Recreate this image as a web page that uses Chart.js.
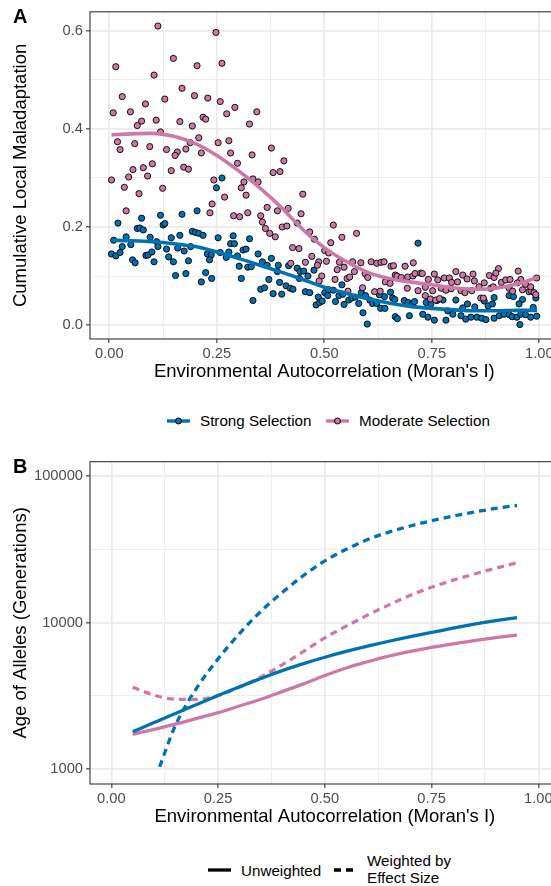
<!DOCTYPE html>
<html>
<head>
<meta charset="utf-8">
<script src="https://cdn.jsdelivr.net/npm/chart.js@4.4.1/dist/chart.umd.min.js"></script>
<style>
  html, body { margin: 0; padding: 0; background: #fff; }
  #page { position: relative; width: 551px; height: 886px; overflow: hidden;
          font-family: "Liberation Sans", Arial, sans-serif; color: #000; }
  canvas { position: absolute; left: 0; }
  .tag { position: absolute; font-weight: bold; font-size: 20px; line-height: 20px; }
  .key { position: absolute; }
  .lab { position: absolute; font-size: 15.2px; line-height: 17px; white-space: nowrap; }
</style>
</head>
<body>
<div id="page">
  <canvas id="chartA" width="570" height="390" style="top:0"></canvas>
  <canvas id="chartB" width="570" height="390" style="top:445px"></canvas>

  <div class="tag" style="left:13px;top:6px">A</div>
  <div class="tag" style="left:13px;top:456px">B</div>

  <!-- legend A -->
  <svg class="key" style="left:167px;top:415px" width="23" height="12">
    <line x1="0" y1="6" x2="23" y2="6" stroke="#0072B2" stroke-width="3.4"/>
    <circle cx="11.5" cy="6" r="3" fill="#0072B2" stroke="#000" stroke-width="1"/>
  </svg>
  <div class="lab" style="left:200px;top:412px">Strong Selection</div>
  <svg class="key" style="left:326px;top:415px" width="23" height="12">
    <line x1="0" y1="6" x2="23" y2="6" stroke="#CC79A7" stroke-width="3.4"/>
    <circle cx="11.5" cy="6" r="3" fill="#CC79A7" stroke="#000" stroke-width="1"/>
  </svg>
  <div class="lab" style="left:359px;top:412px">Moderate Selection</div>

  <!-- legend B -->
  <svg class="key" style="left:208px;top:864px" width="23" height="12">
    <line x1="0" y1="6" x2="23" y2="6" stroke="#000" stroke-width="3.3"/>
  </svg>
  <div class="lab" style="left:241px;top:862px">Unweighted</div>
  <svg class="key" style="left:334px;top:864px" width="20" height="12">
    <line x1="0" y1="6" x2="20" y2="6" stroke="#000" stroke-width="3.3" stroke-dasharray="7,5"/>
  </svg>
  <div class="lab" style="left:367px;top:853px;line-height:16.6px">Weighted by<br>Effect Size</div>
</div>

<script>
// Panel A: cumulative local maladaptation vs Moran's I
const strongPts = [
  [0.262,0.300],[0.249,0.280],[0.020,0.208],[0.075,0.218],[0.119,0.224],[0.169,0.226],[0.204,0.233],
  [0.125,0.204],[0.129,0.207],[0.065,0.197],[0.071,0.198],[0.079,0.194],[0.010,0.173],[0.039,0.180],
  [0.030,0.160],[0.050,0.164],[0.005,0.145],[0.015,0.141],[0.025,0.148],[0.054,0.133],[0.060,0.127],
  [0.085,0.142],[0.090,0.143],[0.095,0.179],[0.110,0.170],[0.113,0.160],[0.099,0.149],[0.104,0.129],
  [0.133,0.155],[0.144,0.178],[0.164,0.183],[0.138,0.139],[0.149,0.129],[0.159,0.157],[0.174,0.151],
  [0.189,0.160],[0.184,0.131],[0.154,0.101],[0.178,0.105],[0.193,0.191],[0.200,0.189],[0.208,0.187],
  [0.218,0.183],[0.228,0.145],[0.237,0.143],[0.233,0.133],[0.224,0.107],[0.214,0.088],[0.238,0.095],
  [0.253,0.178],[0.258,0.148],[0.272,0.138],[0.278,0.149],[0.288,0.182],[0.282,0.166],[0.291,0.166],
  [0.298,0.141],[0.311,0.153],[0.318,0.155],[0.302,0.120],[0.307,0.095],[0.326,0.176],[0.322,0.118],
  [0.330,0.119],[0.334,0.050],
  [0.346,0.145],[0.356,0.129],[0.367,0.122],[0.377,0.136],[0.352,0.073],[0.361,0.076],[0.371,0.093],
  [0.381,0.064],[0.401,0.063],[0.393,0.122],[0.391,0.109],[0.396,0.087],[0.411,0.080],[0.421,0.075],
  [0.427,0.073],[0.417,0.121],[0.437,0.116],[0.444,0.109],[0.452,0.110],[0.442,0.095],[0.462,0.100],
  [0.476,0.112],[0.456,0.068],[0.466,0.066],[0.486,0.057],[0.481,0.041],[0.489,0.046],[0.495,0.049],
  [0.501,0.066],[0.510,0.072],[0.521,0.071],[0.508,0.060],[0.526,0.048],[0.541,0.082],[0.534,0.060],
  [0.543,0.063],[0.557,0.051],[0.564,0.055],[0.572,0.057],[0.546,0.042],[0.580,0.044],[0.586,0.066],
  [0.590,0.025],[0.600,0.002],[0.596,0.060],[0.606,0.051],[0.612,0.044],[0.622,0.044],[0.631,0.034],
  [0.641,0.034],[0.640,0.058],[0.654,0.067],[0.659,0.055],[0.665,0.017],[0.670,0.013],[0.628,0.062],
  [0.718,0.167],[0.664,0.052],[0.698,0.019],[0.686,0.050],[0.695,0.046],[0.705,0.043],[0.710,0.048],
  [0.729,0.022],[0.741,0.016],[0.756,0.010],[0.737,0.046],[0.748,0.043],[0.762,0.050],[0.776,0.051],
  [0.787,0.029],[0.783,0.010],[0.799,0.022],[0.818,0.019],[0.829,0.012],[0.841,0.016],[0.855,0.016],
  [0.866,0.014],[0.876,0.011],[0.806,0.051],[0.822,0.035],[0.833,0.043],[0.850,0.037],[0.872,0.049],
  [0.881,0.039],[0.891,0.043],[0.895,0.056],[0.895,0.014],[0.907,0.019],[0.918,0.022],[0.930,0.021],
  [0.937,0.017],[0.948,0.016],[0.957,0.022],[0.930,0.060],[0.940,0.058],[0.961,0.052],[0.953,0.043],
  [0.968,0.021],[0.980,0.016],[0.994,0.018],[0.992,0.055],[0.986,0.036],[0.955,0.001]
];
const moderatePts = [
  [0.113,0.610],[0.248,0.597],[0.015,0.527],[0.149,0.544],[0.104,0.510],[0.204,0.529],[0.262,0.534],
  [0.169,0.483],[0.030,0.466],[0.084,0.451],[0.129,0.461],[0.198,0.468],[0.229,0.463],[0.258,0.456],
  [0.292,0.444],[0.273,0.431],[0.009,0.433],[0.049,0.435],[0.075,0.416],[0.065,0.407],[0.109,0.418],
  [0.164,0.415],[0.193,0.406],[0.218,0.424],[0.224,0.420],[0.326,0.410],[0.119,0.394],[0.019,0.374],
  [0.025,0.358],[0.059,0.370],[0.094,0.364],[0.133,0.358],[0.158,0.353],[0.153,0.346],[0.178,0.359],
  [0.188,0.372],[0.208,0.382],[0.214,0.351],[0.253,0.372],[0.278,0.376],[0.282,0.351],[0.298,0.330],
  [0.332,0.347],[0.005,0.296],[0.045,0.302],[0.055,0.317],[0.079,0.321],[0.100,0.329],[0.089,0.304],
  [0.035,0.281],[0.069,0.268],[0.144,0.315],[0.173,0.322],[0.184,0.318],[0.124,0.279],[0.243,0.296],
  [0.268,0.261],[0.307,0.280],[0.313,0.292],[0.318,0.265],[0.334,0.298],[0.039,0.233],[0.239,0.247],
  [0.234,0.229],[0.289,0.223],[0.303,0.221],[0.322,0.229],
  [0.343,0.435],[0.377,0.361],[0.381,0.311],[0.397,0.313],[0.406,0.335],[0.346,0.292],[0.450,0.267],
  [0.367,0.240],[0.391,0.233],[0.416,0.238],[0.446,0.227],[0.352,0.223],[0.356,0.210],[0.363,0.197],
  [0.373,0.187],[0.386,0.180],[0.402,0.200],[0.413,0.202],[0.437,0.208],[0.466,0.190],[0.426,0.158],
  [0.441,0.156],[0.477,0.175],[0.521,0.204],[0.541,0.179],[0.575,0.187],[0.515,0.168],[0.501,0.152],
  [0.510,0.147],[0.471,0.140],[0.456,0.128],[0.422,0.126],[0.487,0.129],[0.484,0.122],[0.505,0.130],
  [0.535,0.128],[0.530,0.113],[0.546,0.118],[0.566,0.129],[0.585,0.127],[0.570,0.109],[0.494,0.100],
  [0.488,0.090],[0.525,0.093],[0.553,0.095],[0.559,0.098],[0.595,0.105],[0.601,0.097],[0.609,0.129],
  [0.622,0.126],[0.632,0.128],[0.639,0.129],[0.655,0.120],[0.661,0.121],[0.665,0.102],[0.555,0.069],
  [0.589,0.076],[0.617,0.068],[0.630,0.069],[0.642,0.088],[0.653,0.085],
  [0.688,0.120],[0.707,0.127],[0.669,0.100],[0.679,0.097],[0.694,0.098],[0.706,0.100],[0.711,0.105],
  [0.724,0.106],[0.728,0.105],[0.693,0.075],[0.718,0.070],[0.742,0.093],[0.756,0.104],[0.764,0.092],
  [0.779,0.096],[0.791,0.096],[0.796,0.087],[0.806,0.109],[0.810,0.088],[0.822,0.102],[0.832,0.094],
  [0.846,0.104],[0.849,0.090],[0.735,0.077],[0.752,0.070],[0.772,0.075],[0.783,0.071],[0.795,0.074],
  [0.735,0.060],[0.747,0.053],[0.759,0.051],[0.768,0.054],[0.818,0.070],[0.827,0.066],[0.843,0.070],
  [0.860,0.078],[0.864,0.055],[0.870,0.055],[0.884,0.101],[0.895,0.097],[0.905,0.115],[0.899,0.106],
  [0.912,0.087],[0.922,0.092],[0.932,0.093],[0.951,0.110],[0.957,0.093],[0.949,0.086],[0.930,0.075],
  [0.938,0.069],[0.961,0.072],[0.976,0.068],[0.981,0.070],[0.988,0.066],[0.994,0.096],[0.992,0.062],
  [0.968,0.083],[0.980,0.078],[0.887,0.075],[0.893,0.078],[0.872,0.086]
];
// smoothed fits
const fitX        = [0.005,0.05,0.1,0.15,0.2,0.25,0.3,0.35,0.4,0.45,0.5,0.55,0.6,0.65,0.7,0.75,0.8,0.85,0.9,0.95,0.995];
const strongFit   = [0.173,0.172,0.170,0.166,0.160,0.149,0.136,0.122,0.108,0.093,0.077,0.065,0.054,0.045,0.038,0.034,0.031,0.029,0.029,0.030,0.030];
const moderateFit = [0.388,0.390,0.391,0.385,0.370,0.346,0.315,0.280,0.240,0.195,0.158,0.130,0.108,0.095,0.088,0.082,0.076,0.073,0.075,0.084,0.097];

// Panel B: age of alleles
const ageX            = [0.05,0.1,0.15,0.2,0.25,0.3,0.35,0.4,0.45,0.5,0.55,0.6,0.65,0.7,0.75,0.8,0.85,0.9,0.95];
const strongUnw       = [1800,2080,2400,2760,3180,3650,4150,4700,5250,5800,6350,6900,7450,8000,8550,9150,9730,10280,10800];
const moderateUnw     = [1730,1870,2030,2220,2430,2700,3000,3380,3820,4350,4900,5400,5900,6350,6760,7150,7530,7880,8200];
const moderateWt      = [3620,3200,3000,2990,3180,3620,4250,5150,6350,7850,9440,11220,13180,15310,17380,19410,21380,23440,25470];
const strongWtX       = [0.113,0.15,0.2,0.25,0.3,0.35,0.4,0.45,0.5,0.55,0.6,0.65,0.7,0.75,0.8,0.85,0.9,0.95];
const strongWt        = [1040,1990,3580,5650,8400,11900,16000,20900,26300,31500,36700,41300,45400,49300,53000,56500,59800,62700];

const xTicks = [0, 0.125, 0.25, 0.375, 0.5, 0.625, 0.75, 0.875, 1];
const xMajor = [0, 0.25, 0.5, 0.75, 1];
const yTicksA = [0, 0.1, 0.2, 0.3, 0.4, 0.5, 0.6];
const yMajorA = [0, 0.2, 0.4, 0.6];
const yTicksB = [1000, 3162.2777, 10000, 31622.777, 100000];
const yMajorB = [1000, 10000, 100000];

const BLUE = '#0072B2';
const PINK = '#CC79A7';
const FONT = '"Liberation Sans", Arial, sans-serif';
const W = 570;

const panelBox = {
  id: 'panelBox',
  afterDraw(chart) {
    const { ctx, chartArea: a } = chart;
    ctx.save();
    ctx.strokeStyle = '#333333';
    ctx.lineWidth = 1.1;
    ctx.strokeRect(a.left, a.top, a.right - a.left, a.bottom - a.top);
    ctx.restore();
  }
};

function gridFor(majors) {
  const isMajor = v => majors.some(m => Math.abs(m - v) < 1e-6 * Math.max(1, m));
  return {
    color: '#EBEBEB',
    lineWidth: c => (c.tick && isMajor(c.tick.value)) ? 1.7 : 0.9,
    tickColor: c => (c.tick && isMajor(c.tick.value)) ? '#333333' : 'rgba(0,0,0,0)',
    tickLength: 4,
    tickWidth: 1.1,
    drawTicks: true
  };
}

function xScale(min, max) {
  return {
    type: 'linear', min: min, max: max,
    afterBuildTicks: s => { s.ticks = xTicks.map(v => ({ value: v })); },
    afterFit: s => { s.height = 51; },
    ticks: {
      autoSkip: false, maxRotation: 0, padding: 2, color: '#4D4D4D',
      font: { family: FONT, size: 14.7 },
      callback: v => xMajor.includes(v) ? v.toFixed(2) : ''
    },
    grid: gridFor(xMajor),
    border: { display: false },
    title: { display: true, text: "Environmental Autocorrelation (Moran's I)", color: '#000',
             font: { family: FONT, size: 18.5 }, padding: { top: 0, bottom: 7 } }
  };
}

function yTitle(text) {
  return { display: true, text: text, color: '#000',
           font: { family: FONT, size: 18.5 }, padding: { top: 9.5, bottom: 0 } };
}

// ---- Panel A ----
new Chart(document.getElementById('chartA'), {
  type: 'scatter',
  data: {
    datasets: [
      { label: 'Strong Selection', data: strongPts.map(([x, y]) => ({ x, y })),
        backgroundColor: BLUE, borderColor: '#000', borderWidth: 0.9, pointRadius: 3.1, order: 3 },
      { label: 'Moderate Selection', data: moderatePts.map(([x, y]) => ({ x, y })),
        backgroundColor: PINK, borderColor: '#000', borderWidth: 0.9, pointRadius: 3.1, order: 2 },
      { type: 'line', label: 'Strong fit', data: fitX.map((x, i) => ({ x, y: strongFit[i] })),
        borderColor: BLUE, borderWidth: 3.6, pointRadius: 0, cubicInterpolationMode: 'monotone', order: 1 },
      { type: 'line', label: 'Moderate fit', data: fitX.map((x, i) => ({ x, y: moderateFit[i] })),
        borderColor: PINK, borderWidth: 3.6, pointRadius: 0, cubicInterpolationMode: 'monotone', order: 0 }
    ]
  },
  options: {
    responsive: false,
    animation: false,
    layout: { padding: { top: 10.7, right: W - 558.6, left: 0, bottom: 0 } },
    plugins: { legend: { display: false }, tooltip: { enabled: false } },
    scales: {
      x: xScale(-0.045, 1.045),
      y: {
        type: 'linear', min: -0.0285, max: 0.639,
        afterBuildTicks: s => { s.ticks = yTicksA.map(v => ({ value: v })); },
        afterFit: s => { s.width = 90; },
        ticks: {
          autoSkip: false, padding: 3, color: '#4D4D4D',
          font: { family: FONT, size: 14.7 },
          callback: v => yMajorA.includes(v) ? v.toFixed(1) : ''
        },
        grid: gridFor(yMajorA),
        border: { display: false },
        title: yTitle('Cumulative Local Maladaptation')
      }
    }
  },
  plugins: [panelBox]
});

// ---- Panel B ----
const lineDs = (label, xs, ys, color, dashed, order) => ({
  label: label,
  data: xs.map((x, i) => ({ x, y: ys[i] })),
  borderColor: color,
  borderWidth: 3.3,
  borderDash: dashed ? [7, 5] : [],
  pointRadius: 0,
  cubicInterpolationMode: 'monotone',
  order: order
});

new Chart(document.getElementById('chartB'), {
  type: 'line',
  data: {
    datasets: [
      lineDs('Strong, weighted', strongWtX, strongWt, BLUE, true, 3),
      lineDs('Moderate, weighted', ageX, moderateWt, PINK, true, 2),
      lineDs('Moderate, unweighted', ageX, moderateUnw, PINK, false, 1),
      lineDs('Strong, unweighted', ageX, strongUnw, BLUE, false, 0)
    ]
  },
  options: {
    responsive: false,
    animation: false,
    layout: { padding: { top: 16.7, right: W - 559.7, left: 0, bottom: 0 } },
    plugins: { legend: { display: false }, tooltip: { enabled: false } },
    scales: {
      x: xScale(-0.05, 1.05),
      y: {
        type: 'logarithmic', min: 794, max: 124500,
        afterBuildTicks: s => { s.ticks = yTicksB.map(v => ({ value: v })); },
        afterFit: s => { s.width = 90; },
        ticks: {
          autoSkip: false, padding: 3, color: '#4D4D4D',
          font: { family: FONT, size: 14.7 },
          callback: v => yMajorB.includes(v) ? String(v) : ''
        },
        grid: gridFor(yMajorB),
        border: { display: false },
        title: yTitle('Age of Alleles (Generations)')
      }
    }
  },
  plugins: [panelBox]
});
</script>
</body>
</html>
